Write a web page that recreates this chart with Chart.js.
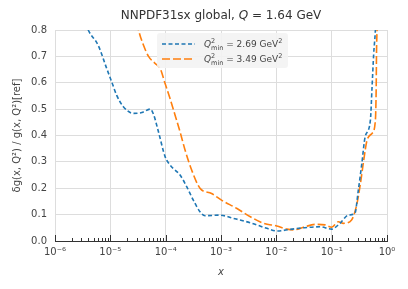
<!DOCTYPE html>
<html>
<head>
<meta charset="utf-8">
<script src="https://cdn.jsdelivr.net/npm/chart.js@4/dist/chart.umd.min.js"></script>
<style>
html,body{margin:0;padding:0;background:#fff;}
#wrap{width:408px;height:289px;position:relative;}
</style>
</head>
<body>
<div id="wrap"><canvas id="c" width="408" height="289"></canvas></div>
<script>
// ---- data ----
const xBlue = [3.0e-6, 3.98e-6, 6.03e-6, 8.6e-6, 1.06e-5, 1.30e-5, 1.72e-5, 2.63e-5, 3.72e-5, 5.25e-5, 6.03e-5, 7.41e-5, 9.77e-5, 1.20e-4, 1.82e-4, 2.40e-4, 3.16e-4, 4.17e-4, 5.13e-4, 9.55e-4, 1.66e-3, 3.39e-3, 6.76e-3, 1.02e-2, 1.78e-2, 3.09e-2, 6.17e-2, 0.1, 0.141, 0.20, 0.263, 0.302, 0.351, 0.403, 0.501, 0.537, 0.575, 0.617, 0.64];
const yBlue = [0.87, 0.80, 0.742, 0.654, 0.603, 0.553, 0.509, 0.484, 0.487, 0.500, 0.480, 0.414, 0.32, 0.288, 0.25, 0.206, 0.155, 0.111, 0.096, 0.098, 0.086, 0.069, 0.048, 0.038, 0.044, 0.050, 0.054, 0.045, 0.067, 0.098, 0.105, 0.19, 0.294, 0.395, 0.458, 0.584, 0.71, 0.80, 0.88];
const xOrange = [2.8e-5, 3.24e-5, 3.98e-5, 4.90e-5, 6.46e-5, 7.94e-5, 9.77e-5, 1.20e-4, 1.48e-4, 1.82e-4, 2.24e-4, 2.95e-4, 4.17e-4, 6.76e-4, 1.02e-3, 1.91e-3, 3.39e-3, 5.89e-3, 1.02e-2, 1.55e-2, 2.04e-2, 3.09e-2, 5.01e-2, 7.59e-2, 0.1, 0.132, 0.162, 0.229, 0.282, 0.331, 0.380, 0.437, 0.537, 0.617, 0.638, 0.646, 0.661, 0.68];
const yOrange = [0.87, 0.80, 0.742, 0.70, 0.673, 0.654, 0.597, 0.54, 0.477, 0.414, 0.345, 0.269, 0.20, 0.18, 0.155, 0.124, 0.092, 0.067, 0.057, 0.045, 0.042, 0.052, 0.063, 0.061, 0.052, 0.073, 0.067, 0.08, 0.135, 0.218, 0.307, 0.383, 0.408, 0.458, 0.584, 0.71, 0.80, 0.88];
const seriesNames = ['2.69', '3.49'];
const xTickValues = [1e-6, 1e-5, 1e-4, 1e-3, 1e-2, 1e-1, 1];
const xTickLabels = ['10\u207B\u2076', '10\u207B\u2075', '10\u207B\u2074', '10\u207B\u00B3', '10\u207B\u00B2', '10\u207B\u00B9', '10\u2070'];
const yMin = 0, yMax = 0.8, yStep = 0.1;

const BLUE = '#1f77b4', ORANGE = '#ff7f0e';
const FONT = '"DejaVu Sans", sans-serif';
const TXT = '#444444';

function pts(xs, ys){ return xs.map((x,i)=>({x:x, y:ys[i]})); }

function drawMath(ctx, x, y, parts){
  // parts: [{t, style:'n'|'i'|'sup'|'sub', size}]
  let cx = x;
  let lastBase = x;
  for (const p of parts){
    if (p.style === 'sub'){
      ctx.font = p.size + 'px ' + FONT;
      ctx.fillText(p.t, lastBase, y + p.size*0.45);
      const w = ctx.measureText(p.t).width;
      cx = Math.max(cx, lastBase + w);
      continue;
    }
    if (p.style === 'sup'){
      ctx.font = p.size + 'px ' + FONT;
      ctx.fillText(p.t, cx, y - p.size*0.6);
      lastBase = cx;
      cx += ctx.measureText(p.t).width;
      continue;
    }
    ctx.font = (p.style === 'i' ? 'italic ' : '') + p.size + 'px ' + FONT;
    ctx.fillText(p.t, cx, y);
    cx += ctx.measureText(p.t).width;
    lastBase = cx;
  }
  return cx - x;
}

const decor = {
  id: 'decor',
  afterDraw(chart){
    const ctx = chart.ctx;
    const ca = chart.chartArea;
    const xs = chart.scales.x;
    // minor / major ticks pointing inward on bottom axis
    ctx.save();
    ctx.strokeStyle = '#333333';
    ctx.lineWidth = 1;
    for (let e = -6; e <= 0; e++){
      for (let m = 1; m <= 9; m++){
        const v = m * Math.pow(10, e);
        if (v > 1.0000001) break;
        const px = Math.round(xs.getPixelForValue(v)) + 0.5;
        const len = (m === 1) ? 6 : 3;
        ctx.beginPath();
        ctx.moveTo(px, ca.bottom);
        ctx.lineTo(px, ca.bottom - len);
        ctx.stroke();
      }
    }
    ctx.restore();

    // legend
    ctx.save();
    const lx = 157, ly = 33, lw = 131, lh = 35;
    ctx.fillStyle = 'rgba(243,243,243,0.9)';
    ctx.beginPath();
    if (ctx.roundRect) ctx.roundRect(lx, ly, lw, lh, 3); else ctx.rect(lx, ly, lw, lh);
    ctx.fill();
    const rows = [{c:BLUE, dash:[4,2.5], y:44, v:seriesNames[0]}, {c:ORANGE, dash:[8,3], y:59, v:seriesNames[1]}];
    for (const r of rows){
      ctx.strokeStyle = r.c; ctx.lineWidth = 1.5; ctx.setLineDash(r.dash);
      ctx.beginPath(); ctx.moveTo(162, r.y); ctx.lineTo(195, r.y); ctx.stroke();
      ctx.setLineDash([]);
      ctx.fillStyle = TXT; ctx.textBaseline = 'middle'; ctx.textAlign = 'left';
      drawMath(ctx, 204, r.y + 1, [
        {t:'Q', style:'i', size:9},
        {t:'2', style:'sup', size:6.5},
        {t:'min', style:'sub', size:6.5},
        {t:' = ' + r.v + ' GeV', style:'n', size:9},
        {t:'2', style:'sup', size:6.5}
      ]);
    }
    ctx.restore();

    // title
    ctx.save();
    ctx.fillStyle = '#333333'; ctx.textBaseline = 'middle'; ctx.textAlign = 'left';
    const parts = [{t:'NNPDF31sx global, ', style:'n', size:12},{t:'Q', style:'i', size:12},{t:' = 1.64 GeV', style:'n', size:12}];
    let tw = 0;
    for (const p of parts){ ctx.font = (p.style==='i'?'italic ':'') + p.size + 'px ' + FONT; tw += ctx.measureText(p.t).width; }
    const cxm = (ca.left + ca.right)/2;
    drawMath(ctx, cxm - tw/2, 16, parts);
    ctx.restore();
  }
};

new Chart(document.getElementById('c'), {
  type: 'line',
  data: {
    datasets: [
      {label: 'Q2min = ' + seriesNames[0] + ' GeV2', data: pts(xBlue, yBlue), borderColor: BLUE, borderWidth: 1.6, borderDash: [4,2.5], pointRadius: 0, fill: false, cubicInterpolationMode: 'monotone', clip: 0},
      {label: 'Q2min = ' + seriesNames[1] + ' GeV2', data: pts(xOrange, yOrange), borderColor: ORANGE, borderWidth: 1.6, borderDash: [8,3], pointRadius: 0, fill: false, cubicInterpolationMode: 'monotone', clip: 0}
    ]
  },
  options: {
    responsive: false,
    animation: false,
    devicePixelRatio: 1,
    layout: {padding: {left: 0, right: 21, top: 30, bottom: 0}},
    plugins: {legend: {display: false}, title: {display: false}, tooltip: {enabled: false}},
    scales: {
      x: {
        type: 'logarithmic',
        min: 1e-6, max: 1,
        afterBuildTicks(scale){ scale.ticks = xTickValues.map(v => ({value: v, major: true})); },
        afterFit(scale){ scale.height = 48; },
        ticks: {
          autoSkip: false, maxRotation: 0, padding: 5,
          color: TXT, font: {family: FONT, size: 10},
          callback(value){ const i = xTickValues.findIndex(t => Math.abs(Math.log10(t) - Math.log10(value)) < 1e-6); return i >= 0 ? xTickLabels[i] : ''; }
        },
        grid: {color: '#dddddd', lineWidth: 1, drawTicks: false},
        border: {display: true, color: '#333333', width: 1},
        title: {display: true, text: 'x', color: TXT, font: {family: FONT, size: 10, style: 'italic'}, padding: {top: 0, bottom: 11}}
      },
      y: {
        type: 'linear',
        min: yMin, max: yMax,
        afterFit(scale){ scale.width = 55; },
        ticks: {stepSize: yStep, padding: 8, color: TXT, font: {family: FONT, size: 10}, callback(v){ return Number(v).toFixed(1); }},
        grid: {color: '#dddddd', lineWidth: 1, drawTicks: false},
        border: {display: false},
        title: {display: true, text: '\u03B4g(x, Q\u00B2) / g(x, Q\u00B2)[ref]', color: TXT, font: {family: FONT, size: 10}, padding: {top: 11, bottom: 0}}
      }
    }
  },
  plugins: [decor]
});
</script>
</body>
</html>
